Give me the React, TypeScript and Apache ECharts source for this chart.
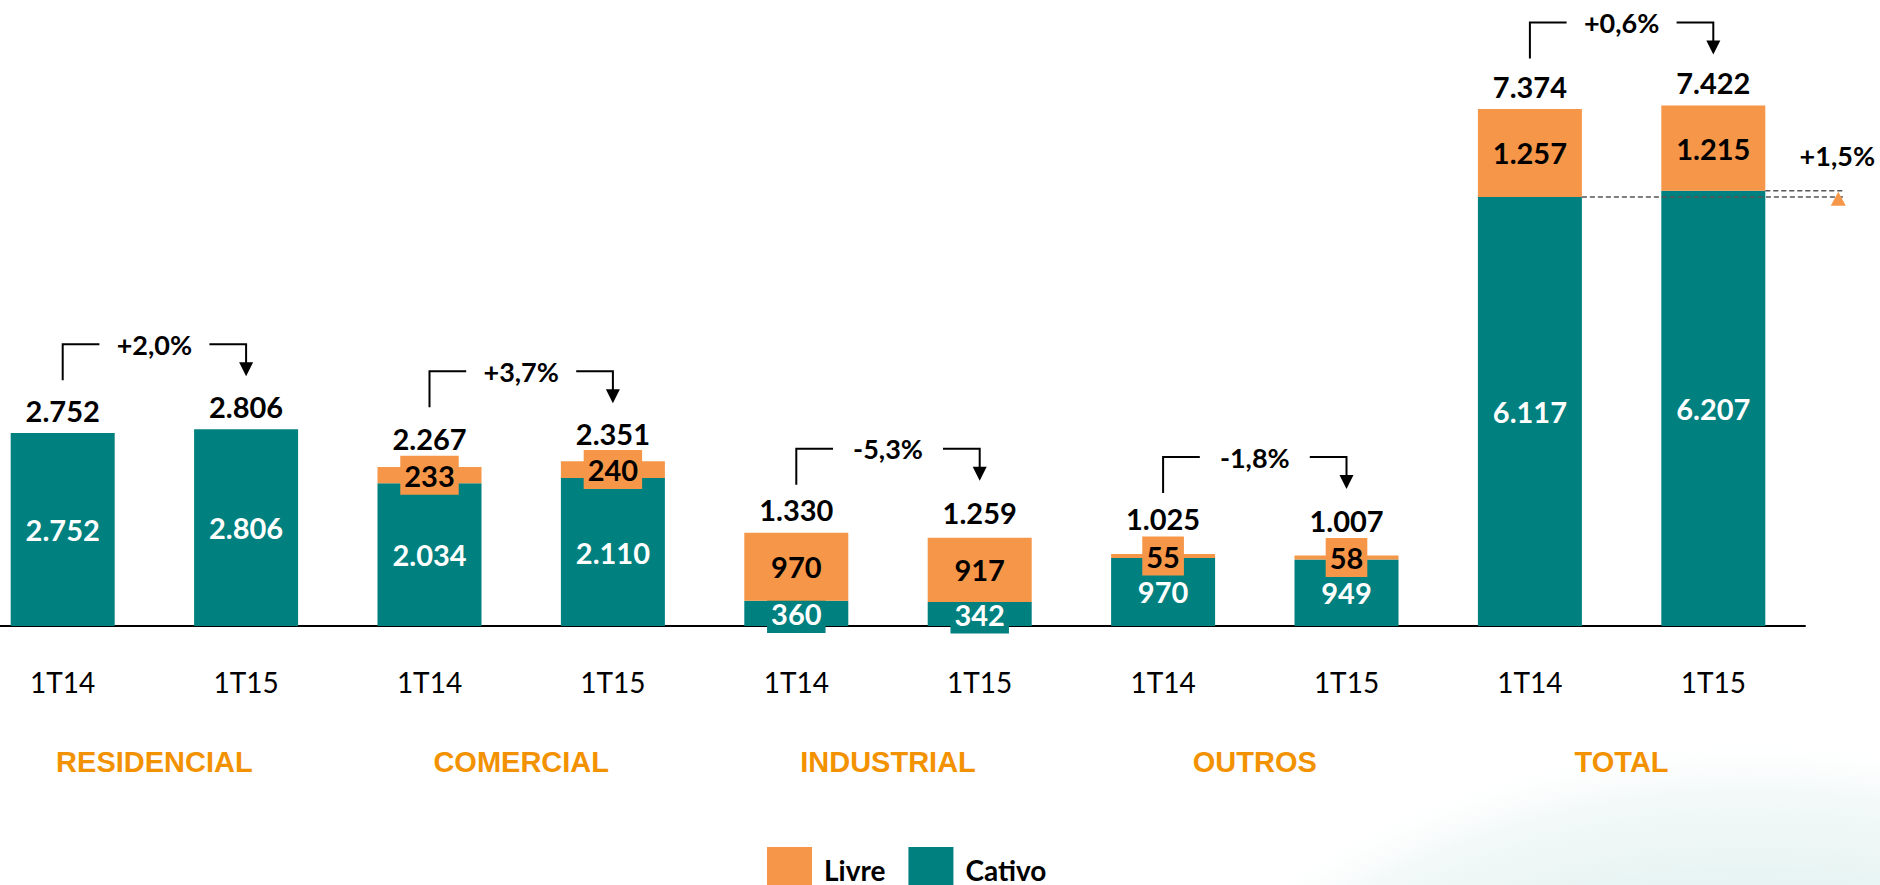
import React, { useEffect, useRef } from 'react';
import * as echarts from 'echarts';

// ---- data ----
const groups = ['RESIDENCIAL', 'COMERCIAL', 'INDUSTRIAL', 'OUTROS', 'TOTAL'];
const quarters = ['1T14', '1T15'];
const livre = [0, 0, 233, 240, 970, 917, 55, 58, 1257, 1215];
const cativo = [2752, 2806, 2034, 2110, 360, 342, 970, 949, 6117, 6207];
const totals = [2752, 2806, 2267, 2351, 1330, 1259, 1025, 1007, 7374, 7422];
const growth = ['+2,0%', '+3,7%', '-5,3%', '-1,8%', '+0,6%'];
const cativoGrowthTotal = '+1,5%';

// ---- styling ----
const TEAL = '#00807F';
const ORANGE = '#F59648';
const GROUP_ORANGE = '#F39200';
const totalLabelLift = [23, 23, 29, 28, 23, 25, 36, 35, 22, 23];
const bracketLift = [85, 90, 84, 97, 83];
const FONT = 'Lato';

const fmt = (n: number) => String(n).replace(/\B(?=(\d{3})+(?!\d))/g, '.');
const cats = groups.flatMap((g) => quarters.map((q) => g + '|' + q));

export default function App() {
  const ref = useRef<HTMLDivElement>(null);
  useEffect(() => {
    const chart = echarts.init(ref.current!, null, { renderer: 'svg' });
    const labelBase = {
      show: true,
      position: 'inside',
      fontFamily: FONT,
      fontWeight: 'bold',
      fontSize: 29,
      lineHeight: 31,
      padding: [4, 4],
      formatter: (p: any) => fmt(p.value),
    };
    const option: any = {
      animation: false,
      backgroundColor: '#fff',
      graphic: [
        {
          type: 'rect',
          z: -10,
          silent: true,
          shape: { x: 0, y: 0, width: 1880, height: 885 },
          style: {
            fill: {
              type: 'radial',
              x: 1750,
              y: 1600,
              r: 870,
              global: true,
              colorStops: [
                { offset: 0, color: '#D5ECE9' },
                { offset: 0.8, color: '#E3F2F0' },
                { offset: 0.93, color: 'rgba(240,248,247,0.8)' },
                { offset: 1, color: 'rgba(255,255,255,0)' },
              ],
            },
          },
        },
      ],
      legend: {
        data: ['Livre', 'Cativo'],
        left: 767,
        top: 847,
        padding: 0,
        itemWidth: 45,
        itemHeight: 45,
        itemGap: 23,
        icon: 'rect',
        selectedMode: false,
        textStyle: {
          fontFamily: FONT,
          fontWeight: 'bold',
          fontSize: 28,
          color: '#000',
          padding: [0, 0, 0, 7],
        },
      },
      grid: { left: -29, width: 1834, top: 65, bottom: 259, outerBoundsMode: 'none', containLabel: false },
      xAxis: [
        {
          type: 'category',
          data: cats,
          axisLine: { lineStyle: { color: '#000', width: 2 } },
          axisTick: { show: false },
          axisLabel: {
            interval: 0,
            margin: 42,
            formatter: (v: string) => v.split('|')[1],
            fontFamily: FONT,
            fontSize: 28,
            lineHeight: 28,
            color: '#000',
          },
        },
        {
          type: 'category',
          data: groups,
          position: 'bottom',
          offset: 121,
          axisLine: { show: false },
          axisTick: { show: false },
          axisLabel: {
            interval: 0,
            margin: 0,
            fontFamily: 'Liberation Sans',
            fontWeight: 'bold',
            fontSize: 29,
            lineHeight: 30,
            color: GROUP_ORANGE,
          },
        },
      ],
      yAxis: { type: 'value', min: 0, max: 8000, show: false },
      series: [
        {
          name: 'Cativo',
          type: 'bar',
          stack: 'a',
          barWidth: 104,
          itemStyle: { color: TEAL },
          label: { ...labelBase, color: '#fff', backgroundColor: TEAL },
          data: cativo,
          z: 2,
        },
        {
          name: 'Livre',
          type: 'bar',
          stack: 'a',
          barWidth: 104,
          itemStyle: { color: ORANGE },
          label: { ...labelBase, color: '#000', backgroundColor: ORANGE },
          data: livre.map((v) => (v === 0 ? { value: v, label: { show: false } } : v)),
          z: 3,
        },
        {
          name: 'totals',
          type: 'custom',
          encode: { x: 0, y: 1 },
          z: 5,
          data: totals.map((t, i) => [cats[i], t]),
          renderItem: (params: any, api: any) => {
            const i = params.dataIndex;
            const p = api.coord([api.value(0), api.value(1)]);
            return {
              type: 'text',
              x: p[0],
              y: p[1] - totalLabelLift[i],
              style: {
                text: fmt(totals[i]),
                align: 'center',
                verticalAlign: 'middle',
                fill: '#000',
                fontFamily: FONT,
                fontWeight: 'bold',
                fontSize: 29,
              },
            };
          },
        },
        {
          name: 'brackets',
          type: 'custom',
          encode: { x: 0, y: [1, 2] },
          z: 5,
          data: groups.map((g, gi) => [cats[gi * 2], totals[gi * 2], totals[gi * 2 + 1]]),
          renderItem: (params: any, api: any) => {
            const i = params.dataIndex;
            const idx = api.value(0);
            const a = api.coord([idx, api.value(1)]);
            const b = api.coord([idx + 1, api.value(2)]);
            const y = Math.min(a[1], b[1]) - bracketLift[i];
            const mid = (a[0] + b[0]) / 2;
            const ls = { stroke: '#000', lineWidth: 2, fill: null };
            return {
              type: 'group',
              children: [
                { type: 'polyline', shape: { points: [[a[0], y + 36], [a[0], y], [mid - 55, y]] }, style: ls },
                { type: 'polyline', shape: { points: [[mid + 55, y], [b[0], y], [b[0], y + 19]] }, style: ls },
                {
                  type: 'polygon',
                  shape: { points: [[b[0] - 7, y + 18], [b[0] + 7, y + 18], [b[0], y + 32]] },
                  style: { fill: '#000' },
                },
                {
                  type: 'text',
                  x: mid,
                  y: y,
                  style: {
                    text: growth[i],
                    align: 'center',
                    verticalAlign: 'middle',
                    fill: '#000',
                    fontFamily: FONT,
                    fontWeight: 'bold',
                    fontSize: 27,
                  },
                },
              ],
            };
          },
        },
        {
          name: 'cativoGrowth',
          type: 'custom',
          encode: { x: 0, y: [1, 2] },
          z: 5,
          data: [[cats[8], cativo[8], cativo[9]]],
          renderItem: (params: any, api: any) => {
            const idx = api.value(0);
            const a = api.coord([idx, api.value(1)]);
            const b = api.coord([idx + 1, api.value(2)]);
            const xEnd = b[0] + 132;
            const dash = { stroke: '#555', lineWidth: 1.5, lineDash: [5, 3] };
            return {
              type: 'group',
              children: [
                { type: 'line', shape: { x1: a[0] + 52, y1: a[1], x2: xEnd, y2: a[1] }, style: dash },
                { type: 'line', shape: { x1: b[0] + 52, y1: b[1], x2: xEnd, y2: b[1] }, style: dash },
                {
                  type: 'polygon',
                  shape: { points: [[b[0] + 117.5, b[1] + 15], [b[0] + 132.5, b[1] + 15], [b[0] + 125, b[1] + 1]] },
                  style: { fill: ORANGE },
                },
                {
                  type: 'text',
                  x: b[0] + 124,
                  y: b[1] - 35,
                  style: {
                    text: cativoGrowthTotal,
                    align: 'center',
                    verticalAlign: 'middle',
                    fill: '#000',
                    fontFamily: FONT,
                    fontWeight: 'bold',
                    fontSize: 27,
                  },
                },
              ],
            };
          },
        },
      ],
    };
    chart.setOption(option);
    return () => chart.dispose();
  }, []);
  return <div ref={ref} style={{ position: 'absolute', left: 0, top: 0, width: 1880, height: 885 }} />;
}
